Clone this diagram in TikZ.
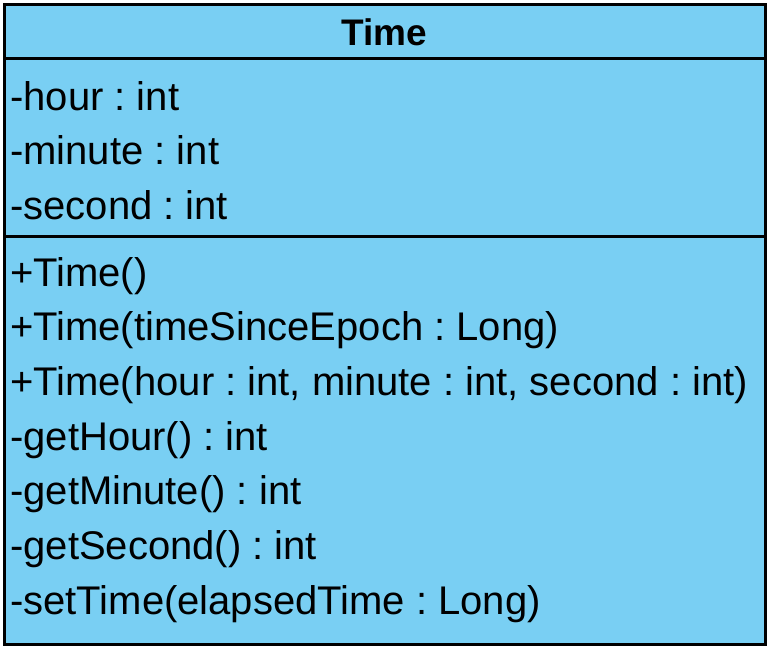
\documentclass[tikz,border=0pt]{standalone}
\usepackage{fontspec}
\setmainfont{Liberation Sans}
\definecolor{umlfill}{RGB}{121,207,243}
\frenchspacing
\begin{document}
\begin{tikzpicture}[x=1pt,y=-1pt,
  member/.style={anchor=base west,inner sep=0pt,font=\fontsize{40}{40}\selectfont\frenchspacing},
  title/.style={anchor=center,inner sep=0pt,font=\fontsize{37}{37}\selectfont\bfseries},
  frame/.style={draw=black,line width=3pt}]
\useasboundingbox (0,0) rectangle (770,649);
\fill[umlfill] (4,4) rectangle (765,644);
\draw[frame] (4,58.5) -- (765,58.5);
\draw[frame] (4,236) -- (765,236);
\draw[frame] (4,4) rectangle (765,644);
\node[title] (title) at (384.5,32) {Time};
\node[member] (a1) at (10,110) {-hour : int};
\node[member] (a2) at (10,164.5) {-minute : int};
\node[member] (a3) at (10,219) {-second : int};
\node[member] (m1) at (10,286) {+Time()};
\node[member] (m2) at (10,340.7) {+Time(timeSinceEpoch : Long)};
\node[member] (m3) at (10,395.4) {+Time(hour : int, minute : int, second : int)};
\node[member] (m4) at (10,450.1) {-getHour() : int};
\node[member] (m5) at (10,504.8) {-getMinute() : int};
\node[member] (m6) at (10,559.5) {-getSecond() : int};
\node[member] (m7) at (10,614.2) {-setTime(elapsedTime : Long)};
\end{tikzpicture}
\end{document}
